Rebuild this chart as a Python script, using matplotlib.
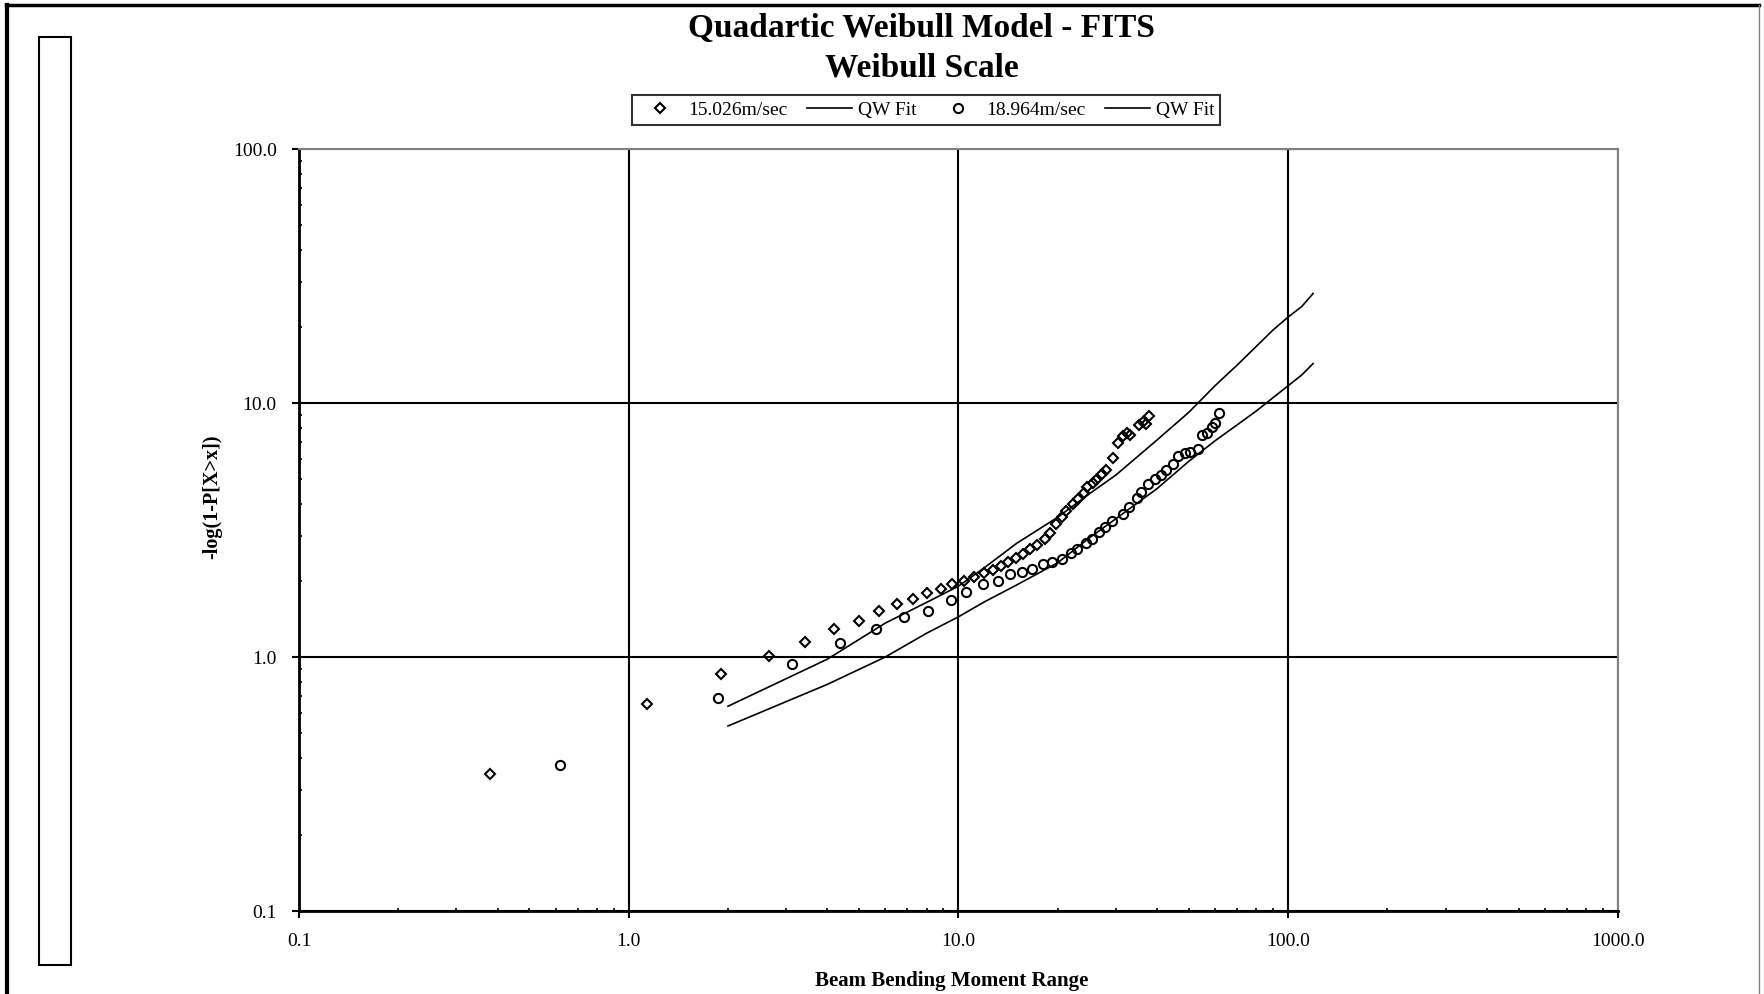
import numpy as np
import matplotlib.pyplot as plt
from matplotlib.lines import Line2D
from matplotlib.patches import Rectangle
from matplotlib.ticker import FixedLocator, FixedFormatter, LogLocator, NullFormatter

plt.rcParams['font.family'] = ['Liberation Serif', 'DejaVu Serif']

# 15.026 m/sec sample points
x_15 = [0.38, 1.135, 1.90, 2.66, 3.42, 4.20, 4.99, 5.75, 6.51, 7.29, 8.05, 8.85, 9.58,
        10.36, 11.16, 11.95, 12.71, 13.43, 14.16, 14.94, 15.72, 16.52, 17.36, 18.25,
        18.94, 19.76, 20.67, 21.20, 22.28, 23.12, 24.01, 24.61, 25.56, 26.21, 27.20,
        28.03, 29.47, 30.43, 31.60, 32.38, 33.20, 35.34, 36.25, 37.17, 37.83]
y_15 = [0.347, 0.653, 0.858, 1.013, 1.15, 1.29, 1.39, 1.52, 1.62, 1.69, 1.78, 1.85, 1.94,
        2.00, 2.07, 2.14, 2.21, 2.29, 2.37, 2.45, 2.54, 2.66, 2.76, 2.91,
        3.09, 3.34, 3.57, 3.77, 4.00, 4.20, 4.44, 4.68, 4.86, 4.98, 5.25,
        5.45, 6.06, 6.98, 7.41, 7.64, 7.48, 8.19, 8.44, 8.26, 8.88]

# 18.964 m/sec sample points
x_18 = [0.62, 1.86, 3.13, 4.37, 5.62, 6.86, 8.07, 9.47, 10.54, 11.88, 13.20, 14.36,
        15.63, 16.73, 18.03, 19.27, 20.56, 22.01, 22.95, 24.31, 25.36, 26.67, 27.89,
        29.16, 31.60, 32.80, 34.73, 35.79, 37.64, 39.36, 41.07, 42.62, 44.81, 46.28,
        48.53, 50.50, 53.08, 54.70, 56.78, 58.63, 59.96, 61.66]
y_18 = [0.377, 0.69, 0.936, 1.14, 1.29, 1.44, 1.52, 1.67, 1.80, 1.93, 2.00, 2.12,
        2.17, 2.23, 2.32, 2.37, 2.44, 2.56, 2.65, 2.80, 2.91, 3.10, 3.26,
        3.44, 3.65, 3.91, 4.24, 4.48, 4.79, 5.01, 5.21, 5.45, 5.75, 6.18,
        6.34, 6.43, 6.57, 7.48, 7.64, 8.07, 8.36, 9.11]

# quadratic weibull fits
fit_x = [2, 4, 6, 8, 10, 12, 15, 20, 25, 30, 40, 50, 60, 70, 80, 90, 100, 110, 119]
fit_15 = [0.64, 0.98, 1.36, 1.64, 1.90, 2.25, 2.80, 3.55, 4.40, 5.20, 7.15, 9.20,
          11.7, 14.1, 16.7, 19.4, 21.8, 24.0, 27.0]
fit_18 = [0.535, 0.78, 1.00, 1.24, 1.44, 1.65, 1.92, 2.35, 2.95, 3.50, 4.60, 5.90,
          7.10, 8.20, 9.30, 10.5, 11.7, 12.9, 14.3]

x_ticks = [0.1, 1, 10, 100, 1000]
x_ticklabels = ['0.1', '1.0', '10.0', '100.0', '1000.0']
y_ticks = [0.1, 1, 10, 100]
y_ticklabels = ['0.1', '1.0', '10.0', '100.0']

fig = plt.figure(figsize=(17.64, 9.94), dpi=100)
ax = fig.add_axes([0.1695, 0.0835, 0.7477, 0.7666])

p1, = ax.plot(x_15, y_15, 'D', ms=5.6, mfc='none', mec='black', mew=1.5, ls='none')
l1, = ax.plot(fit_x, fit_15, color='black', lw=1.2)
p2, = ax.plot(x_18, y_18, 'o', ms=6.6, mfc='none', mec='black', mew=1.5, ls='none')
l2, = ax.plot(fit_x, fit_18, color='black', lw=1.2)

ax.set_xscale('log')
ax.set_yscale('log')
ax.set_xlim(0.1, 1000)
ax.set_ylim(0.1, 100)

ax.xaxis.set_major_locator(FixedLocator(x_ticks))
ax.xaxis.set_major_formatter(FixedFormatter(x_ticklabels))
ax.yaxis.set_major_locator(FixedLocator(y_ticks))
ax.yaxis.set_major_formatter(FixedFormatter(y_ticklabels))
ax.xaxis.set_minor_locator(LogLocator(base=10, subs=np.arange(2, 10)))
ax.yaxis.set_minor_locator(LogLocator(base=10, subs=np.arange(2, 10)))
ax.xaxis.set_minor_formatter(NullFormatter())
ax.yaxis.set_minor_formatter(NullFormatter())

ax.tick_params(which='major', direction='out', length=5, width=1.5, labelsize=14, pad=11)
ax.tick_params(which='minor', direction='in', length=2.5, width=1.2)

ax.grid(True, which='major', color='black', lw=1.5)
ax.set_axisbelow(True)
for side in ['left', 'bottom']:
    ax.spines[side].set_linewidth(2)
    ax.spines[side].set_color('black')
for side in ['top', 'right']:
    ax.spines[side].set_linewidth(1.5)
    ax.spines[side].set_color('#808080')

fig.text(0.5225, 1 - 28 / 994, 'Quadartic Weibull Model - FITS', ha='center', va='center',
         fontsize=24, fontweight='bold')
fig.text(0.5225, 1 - 68 / 994, 'Weibull Scale', ha='center', va='center',
         fontsize=24, fontweight='bold')

fig.text(0.5395, 1 - 981 / 994, 'Beam Bending Moment Range', ha='center', va='center',
         fontsize=15, fontweight='bold')
fig.text(212 / 1764, 0.5, '-log(1-P[X>x])', ha='center', va='center', rotation=90,
         fontsize=14.5, fontweight='bold')

leg = fig.legend([p1, l1, p2, l2], ['15.026m/sec', 'QW Fit', '18.964m/sec', 'QW Fit'],
                 loc='center', bbox_to_anchor=(926 / 1764, 1 - 110 / 994), ncol=4,
                 fontsize=14, frameon=True, fancybox=False, edgecolor='black',
                 handlelength=2.3, handletextpad=0.3, columnspacing=1.0,
                 borderpad=0.3, borderaxespad=0)
leg.get_frame().set_linewidth(1.5)

# outer border and the empty side box
fig.add_artist(Line2D([6 / 1764, 1759 / 1764], [1 - 5 / 994, 1 - 5 / 994],
                      transform=fig.transFigure, color='black', lw=2.5))
fig.add_artist(Line2D([7 / 1764, 7 / 1764], [0, 1 - 5 / 994],
                      transform=fig.transFigure, color='black', lw=3))
fig.add_artist(Line2D([1759 / 1764, 1759 / 1764], [0, 1 - 5 / 994],
                      transform=fig.transFigure, color='#808080', lw=1))
fig.add_artist(Rectangle((39 / 1764, 1 - 965 / 994), 32 / 1764, 928 / 994,
                         transform=fig.transFigure, fill=False, edgecolor='black', lw=1.5))

fig.savefig('out.png', dpi=100)
